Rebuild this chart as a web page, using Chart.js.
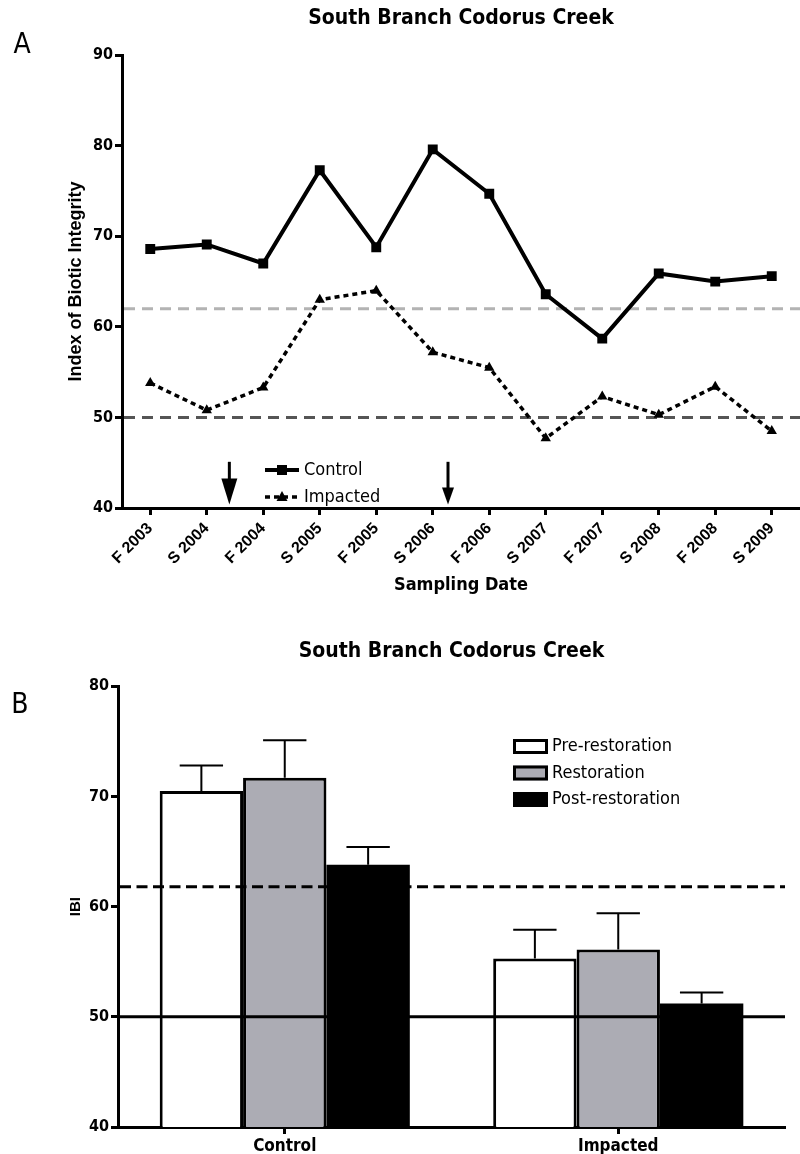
<!DOCTYPE html>
<html>
<head>
<meta charset="utf-8">
<script src="https://cdn.jsdelivr.net/npm/chart.js@4.4.1/dist/chart.umd.min.js"></script>
<style>
    body { margin: 0; background: #fff; width: 800px; height: 1154px; position: relative; overflow: hidden; }
    .panel { position: absolute; left: 0; }
</style>
</head>
<body>
<div class="panel" style="top:0;width:807px;height:600px"><canvas id="chartA"></canvas></div>
<div class="panel" style="top:620px;width:800px;height:534px"><canvas id="chartB"></canvas></div>
<script>
// Panel A data
const samplingDates = ['F 2003', 'S 2004', 'F 2004', 'S 2005', 'F 2005', 'S 2006',
    'F 2006', 'S 2007', 'F 2007', 'S 2008', 'F 2008', 'S 2009'];
const controlIBI = [68.6, 69.1, 67.0, 77.3, 68.8, 79.6, 74.7, 63.6, 58.7, 65.9, 65.0, 65.6];
const impactedIBI = [53.8, 50.8, 53.3, 63.0, 64.0, 57.2, 55.5, 47.7, 52.3, 50.3, 53.4, 48.5];
const restorationArrows = [1.4, 5.27];   // positions on the date axis
const criteriaA = [62, 50];

// Panel B data
const sites = ['Control', 'Impacted'];
const preRestoration = [70.5, 55.3];
const preRestorationErr = [2.3, 2.6];
const restoration = [71.7, 56.1];
const restorationErr = [3.4, 3.3];
const postRestoration = [63.8, 51.2];
const postRestorationErr = [1.6, 1.0];
const criteriaB = [61.8, 50];

const narrow = "'Liberation Sans Narrow', 'Arial Narrow', 'DejaVu Sans Condensed', sans-serif";
const wide = "'Liberation Sans', Arial, sans-serif";

function panelLetter(ctx, letter, x, y) {
    ctx.save();
    ctx.fillStyle = '#000';
    ctx.font = '28px ' + narrow;
    ctx.textAlign = 'center';
    ctx.textBaseline = 'middle';
    ctx.fillText(letter, x, y);
    ctx.restore();
}

// Panel A plugin: criteria lines, arrows, legend
const panelAPlugin = {
    id: 'panelA',
    beforeDatasetsDraw(chart) {
        const { ctx, chartArea, scales: { y } } = chart;
        const colors = ['#b3b3b3', '#555555'];
        ctx.save();
        ctx.lineWidth = 3;
        ctx.setLineDash([11, 7]);
        criteriaA.forEach((v, i) => {
            const py = y.getPixelForValue(v);
            ctx.strokeStyle = colors[i];
            ctx.beginPath();
            ctx.moveTo(chartArea.left + 2, py);
            ctx.lineTo(chartArea.right, py);
            ctx.stroke();
        });
        ctx.restore();
    },
    afterDraw(chart) {
        const { ctx, scales: { x, y } } = chart;
        ctx.save();
        // arrows
        restorationArrows.forEach((pos, i) => {
            const px = x.getPixelForValue(pos);
            const top = y.getPixelForValue(45.1);
            const tip = y.getPixelForValue(40.4);
            const headLen = i === 0 ? 26 : 17;
            const headW = i === 0 ? 8 : 6;
            ctx.strokeStyle = '#000';
            ctx.lineWidth = 3;
            ctx.beginPath();
            ctx.moveTo(px, top);
            ctx.lineTo(px, tip - headLen + 2);
            ctx.stroke();
            ctx.fillStyle = '#000';
            ctx.beginPath();
            ctx.moveTo(px - headW, tip - headLen);
            ctx.lineTo(px + headW, tip - headLen);
            ctx.lineTo(px, tip);
            ctx.closePath();
            ctx.fill();
        });
        // legend
        chart.data.datasets.forEach((ds, i) => {
            const ly = 470 + i * 27;
            ctx.strokeStyle = '#000';
            ctx.lineWidth = ds.borderWidth;
            ctx.setLineDash(ds.borderDash || []);
            ctx.beginPath();
            ctx.moveTo(265, ly);
            ctx.lineTo(299, ly);
            ctx.stroke();
            ctx.setLineDash([]);
            ctx.fillStyle = '#000';
            ctx.beginPath();
            if (ds.pointStyle === 'rect') {
                ctx.rect(277, ly - 5, 10, 10);
            } else {
                ctx.moveTo(282, ly - 6);
                ctx.lineTo(287.5, ly + 4);
                ctx.lineTo(276.5, ly + 4);
                ctx.closePath();
            }
            ctx.fill();
            ctx.font = '18px ' + narrow;
            ctx.textBaseline = 'middle';
            ctx.textAlign = 'left';
            ctx.fillText(ds.label, 304, ly);
        });
        ctx.restore();
        panelLetter(ctx, 'A', 22, 46);
    }
};

// Panel B plugin: criteria lines, error bars, legend
const errorsB = [preRestorationErr, restorationErr, postRestorationErr];
const panelBPlugin = {
    id: 'panelB',
    afterDatasetsDraw(chart) {
        const { ctx, chartArea, scales: { y } } = chart;
        ctx.save();
        // error bars (upper only)
        chart.data.datasets.forEach((ds, di) => {
            const meta = chart.getDatasetMeta(di);
            meta.data.forEach((bar, i) => {
                const top = y.getPixelForValue(ds.data[i] + errorsB[di][i]);
                const cap = bar.width * 0.26;
                ctx.strokeStyle = '#000';
                ctx.lineWidth = 2;
                ctx.beginPath();
                ctx.moveTo(bar.x, bar.y);
                ctx.lineTo(bar.x, top);
                ctx.moveTo(bar.x - cap, top);
                ctx.lineTo(bar.x + cap, top);
                ctx.stroke();
            });
        });
        // criteria lines
        ctx.lineWidth = 3;
        ctx.strokeStyle = '#000';
        criteriaB.forEach((v, i) => {
            const py = y.getPixelForValue(v);
            ctx.setLineDash(i === 0 ? [11, 5.5] : []);
            ctx.beginPath();
            ctx.moveTo(chartArea.left + 2, py);
            ctx.lineTo(chartArea.right, py);
            ctx.stroke();
        });
        ctx.restore();
    },
    afterDraw(chart) {
        const { ctx } = chart;
        ctx.save();
        chart.data.datasets.forEach((ds, i) => {
            const top = 119 + i * 26.5;
            ctx.fillStyle = ds.backgroundColor;
            ctx.fillRect(513, top, 35, 15);
            ctx.strokeStyle = '#000';
            ctx.lineWidth = 3;
            ctx.strokeRect(514.5, top + 1.5, 32, 12);
            ctx.fillStyle = '#000';
            ctx.font = '18px ' + narrow;
            ctx.textBaseline = 'middle';
            ctx.textAlign = 'left';
            ctx.fillText(ds.label, 552, top + 7.5);
        });
        ctx.restore();
        panelLetter(ctx, 'B', 20, 86);
    }
};

const axisGrid = { display: true, drawOnChartArea: false, drawTicks: true, tickLength: 7, tickWidth: 3, color: '#000' };
const axisBorder = { color: '#000', width: 3 };

new Chart(document.getElementById('chartA').getContext('2d'), {
    type: 'line',
    data: {
        labels: samplingDates,
        datasets: [{
            label: 'Control',
            data: controlIBI,
            borderColor: '#000',
            backgroundColor: '#000',
            borderWidth: 4,
            pointStyle: 'rect',
            pointRadius: 7,
            pointBackgroundColor: '#000',
            pointBorderWidth: 0,
            tension: 0
        }, {
            label: 'Impacted',
            data: impactedIBI,
            borderColor: '#000',
            backgroundColor: '#000',
            borderWidth: 3.5,
            borderDash: [5, 4],
            pointStyle: 'triangle',
            pointRadius: 6,
            pointBackgroundColor: '#000',
            pointBorderWidth: 0,
            tension: 0
        }]
    },
    options: {
        responsive: true,
        maintainAspectRatio: false,
        animation: false,
        layout: { padding: { left: 61, right: 0, top: 0, bottom: 4 } },
        plugins: {
            legend: { display: false },
            tooltip: { enabled: false },
            title: {
                display: true,
                fullSize: false,
                text: 'South Branch Codorus Creek',
                color: '#000',
                font: { family: narrow, size: 21, weight: 'bold' },
                padding: { top: 6, bottom: 24 }
            }
        },
        scales: {
            x: {
                offset: true,
                grid: axisGrid,
                border: axisBorder,
                ticks: { color: '#000', autoSkip: false, minRotation: 45, maxRotation: 45, padding: 4,
                    font: { family: wide, size: 16, weight: 'bold' } },
                title: { display: true, text: 'Sampling Date', color: '#000',
                    font: { family: narrow, size: 18, weight: 'bold' }, padding: { top: 0, bottom: 0 } },
                afterFit: function(scale) { scale.height = 88; }
            },
            y: {
                min: 40,
                max: 90,
                grid: axisGrid,
                border: axisBorder,
                ticks: { stepSize: 10, color: '#000', padding: 2, font: { family: narrow, size: 16, weight: 'bold' } },
                title: { display: true, text: 'Index of Biotic Integrity', color: '#000',
                    font: { family: wide, size: 18, weight: 'bold' } },
                afterFit: function(scale) { scale.width = 61; }
            }
        }
    },
    plugins: [panelAPlugin]
});

new Chart(document.getElementById('chartB').getContext('2d'), {
    type: 'bar',
    data: {
        labels: sites,
        datasets: [{
            label: 'Pre-restoration',
            data: preRestoration,
            backgroundColor: '#ffffff',
            borderColor: '#000',
            borderWidth: 3
        }, {
            label: 'Restoration',
            data: restoration,
            backgroundColor: '#acacb4',
            borderColor: '#000',
            borderWidth: 3
        }, {
            label: 'Post-restoration',
            data: postRestoration,
            backgroundColor: '#000000',
            borderColor: '#000',
            borderWidth: 0
        }]
    },
    options: {
        responsive: true,
        maintainAspectRatio: false,
        animation: false,
        datasets: { bar: { categoryPercentage: 0.75, barPercentage: 1 } },
        layout: { padding: { left: 63, right: 15, top: 0, bottom: 0 } },
        plugins: {
            legend: { display: false },
            tooltip: { enabled: false },
            title: {
                display: true,
                fullSize: false,
                text: 'South Branch Codorus Creek',
                color: '#000',
                font: { family: narrow, size: 21, weight: 'bold' },
                padding: { top: 19, bottom: 22 }
            }
        },
        scales: {
            x: {
                grid: Object.assign({}, axisGrid, { offset: false }),
                border: axisBorder,
                ticks: { color: '#000', padding: 2, font: { family: narrow, size: 17, weight: 'bold' } },
                afterFit: function(scale) { scale.height = 27; }
            },
            y: {
                min: 40,
                max: 80,
                grid: axisGrid,
                border: axisBorder,
                ticks: { stepSize: 10, color: '#000', padding: 2, font: { family: narrow, size: 16, weight: 'bold' } },
                title: { display: true, text: 'IBI', color: '#000',
                    font: { family: wide, size: 15, weight: 'bold' } },
                afterFit: function(scale) { scale.width = 55; }
            }
        }
    },
    plugins: [panelBPlugin]
});
</script>
</body>
</html>
